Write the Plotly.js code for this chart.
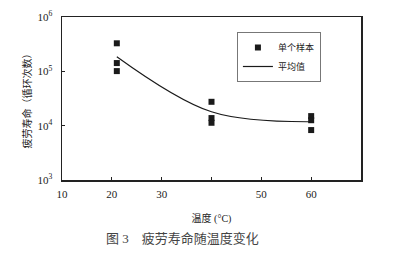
<!DOCTYPE html>
<html><head><meta charset="utf-8">
<script src="https://cdn.plot.ly/plotly-3.0.1.min.js"></script>
<style>body{margin:0;background:#fff}#c{width:394px;height:254px}</style>
</head><body><div id="c"></div>
<script>
var sampleTemp = [21, 21, 21, 40, 40, 40, 60, 60, 60];
var sampleLife = [328000, 142000, 101000, 27500, 13800, 11300, 15000, 12600, 8300];
var meanTemp = [21, 40, 60];
var meanLife = [186000, 18000, 11800];
var yTickVals = [1000, 10000, 100000, 1000000];
var yTickText = ['10<sup>3</sup>', '10<sup>4</sup>', '10<sup>5</sup>', '10<sup>6</sup>'];
var xTickVals = [10, 20, 30, 40, 50, 60];
var xTickText = ['10', '20', '30', '', '50', '60'];
var serif = '"Liberation Serif", "Noto Sans CJK SC", serif';

var traces = [
  {x: sampleTemp, y: sampleLife, mode: 'markers', type: 'scatter', name: '单个样本',
   marker: {symbol: 'square', size: 6, color: '#1a1a1a'}},
  {x: meanTemp, y: meanLife, mode: 'lines', type: 'scatter', name: '平均值',
   line: {shape: 'spline', color: '#1a1a1a', width: 1.2}}
];
var layout = {
  width: 394, height: 254,
  margin: {l: 62, r: 33, t: 17, b: 74},
  paper_bgcolor: '#fff', plot_bgcolor: '#fff',
  font: {family: serif, color: '#222', size: 11},
  showlegend: true,
  legend: {x: 0.585, y: 0.908, xanchor: 'left', yanchor: 'top',
    bordercolor: '#777', borderwidth: 1, bgcolor: '#fff',
    font: {size: 9, family: serif}, tracegroupgap: 0},
  xaxis: {range: [10, 70], tickvals: xTickVals, ticktext: xTickText,
    ticks: 'inside', ticklen: 3, tickcolor: '#222', showgrid: false, zeroline: false,
    showline: true, linecolor: '#222', linewidth: 1.5, mirror: true,
    tickfont: {size: 11, family: serif}, ticklabelstandoff: 3,
    title: {text: '温度 (°C)', font: {size: 10, family: serif}, standoff: 16}},
  yaxis: {type: 'log', range: [3, 6], tickvals: yTickVals, ticktext: yTickText,
    ticks: 'inside', ticklen: 3, tickcolor: '#222', showgrid: false, zeroline: false,
    showline: true, linecolor: '#222', linewidth: 1.5, mirror: true,
    tickfont: {size: 11, family: serif}, ticklabelstandoff: 6,
    title: {text: '疲劳寿命（循环次数）', font: {size: 10, family: serif}, standoff: 4}},
  annotations: [{text: '图 3    疲劳寿命随温度变化', xref: 'paper', yref: 'paper',
    x: 0.14, y: -0.30, xanchor: 'left', yanchor: 'top', showarrow: false,
    font: {size: 13, family: serif, color: '#444'}}]
};
Plotly.newPlot('c', traces, layout, {displayModeBar: false, staticPlot: true});
</script></body></html>
